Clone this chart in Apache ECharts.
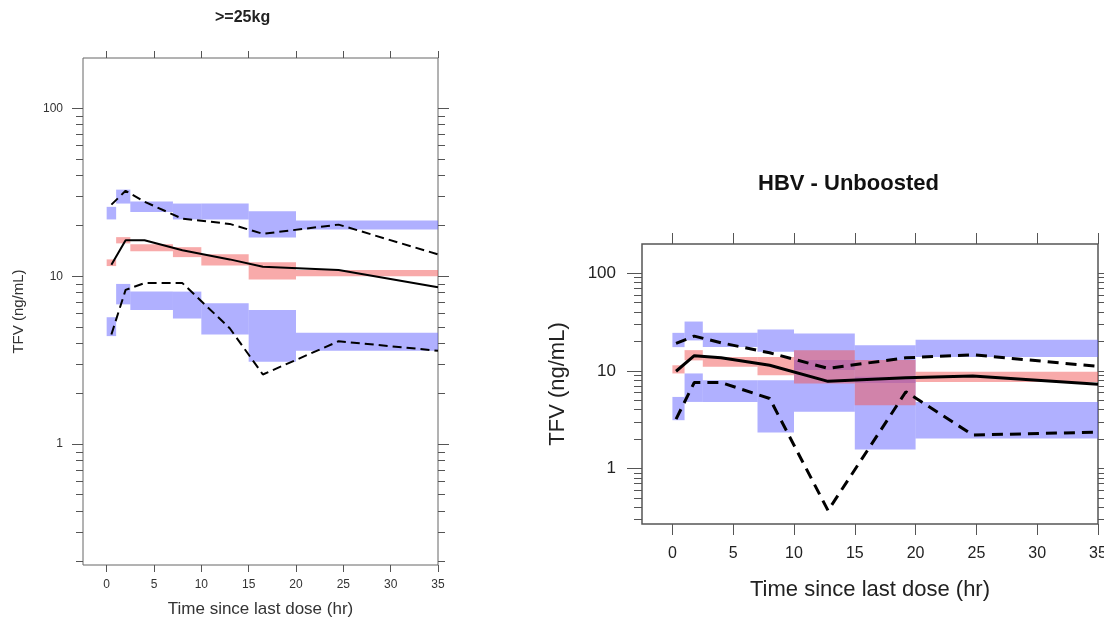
<!DOCTYPE html>
<html>
<head>
<meta charset="utf-8">
<script src="https://cdn.jsdelivr.net/npm/echarts@6/dist/echarts.min.js"></script>
<style>
  html, body { margin: 0; padding: 0; background: #fff; }
  #main { width: 1104px; height: 619px; }
</style>
</head>
<body>
<div id="main"></div>
<script>
// time bins (hr)
var binStart = [0, 1, 2.5, 7, 10, 15, 20];
var binEnd = [1, 2.5, 7, 10, 15, 20, 35];
var xTicks = [0, 5, 10, 15, 20, 25, 30, 35];
var yMajor = [1, 10, 100];
var yMinor = [0.2, 0.3, 0.4, 0.5, 0.6, 0.7, 0.8, 0.9, 2, 3, 4, 5, 6, 7, 8, 9, 20, 30, 40, 50, 60, 70, 80, 90];

// >=25kg panel
var kgTime = [0.5, 2, 4, 8, 13, 16.5, 24.5, 35];
var kgMedian = [11.7, 16.4, 16.4, 14.3, 12.6, 11.4, 10.9, 8.6];
var kgP95 = [26.7, 32.3, 27.8, 22.0, 20.5, 17.9, 20.3, 13.5];
var kgP05 = [4.5, 8.3, 9.1, 9.1, 4.9, 2.6, 4.1, 3.6];
var kgHiBandLo = [21.8, 27.1, 24.1, 21.8, 21.8, 17.0, 19.0];
var kgHiBandHi = [25.9, 32.8, 27.9, 27.1, 27.1, 24.4, 21.5];
var kgMidBandLo = [11.5, 15.7, 14.1, 13.0, 11.6, 9.55, 10.0];
var kgMidBandHi = [12.6, 17.1, 15.5, 14.9, 13.5, 12.1, 10.9];
var kgLoBandLo = [4.4, 6.8, 6.3, 5.6, 4.5, 3.1, 3.6];
var kgLoBandHi = [5.7, 9.0, 8.1, 8.1, 6.9, 6.3, 4.6];

// HBV - Unboosted panel
var hbvTime = [0.3, 1.8, 4, 8, 12.8, 19.2, 24.7, 35];
var hbvMedian = [9.9, 14.3, 13.6, 11.4, 7.8, 8.5, 8.85, 7.3];
var hbvP95 = [19.1, 22.7, 19.4, 15.3, 10.6, 13.6, 14.6, 11.1];
var hbvP05 = [3.2, 7.6, 7.6, 5.2, 0.37, 6.1, 2.2, 2.35];
var hbvHiBandLo = [17.5, 20.5, 17.6, 15.7, 10.2, 7.5, 13.9];
var hbvHiBandHi = [24.5, 32.0, 24.5, 26.6, 24.2, 18.3, 20.8];
var hbvMidBandLo = [9.4, 12.8, 11.0, 9.0, 7.43, 4.45, 7.7];
var hbvMidBandHi = [11.4, 16.3, 13.9, 13.9, 16.3, 12.9, 9.8];
var hbvLoBandLo = [3.12, 4.8, 4.8, 2.33, 3.8, 1.56, 2.03];
var hbvLoBandHi = [5.4, 9.4, 8.0, 8.03, 12.9, 8.7, 4.8];

var FONT = '"Liberation Sans", Arial, sans-serif';
var BLUE = 'rgba(97,97,255,0.5)';
var RED = 'rgba(241,85,85,0.5)';
var lg = function (v) { return Math.log10(v); };

var myChart = echarts.init(document.getElementById('main'), null, {renderer: 'canvas'});

function bandSeries (gridIdx, lo, hi, color) {
  return {
    type: 'custom',
    xAxisIndex: gridIdx * 2,
    yAxisIndex: gridIdx * 4,
    clip: true,
    silent: true,
    data: binStart.map(function (s, i) { return [s, binEnd[i], lg(lo[i]), lg(hi[i])]; }),
    renderItem: function (params, api) {
      var p0 = api.coord([api.value(0), api.value(3)]);
      var p1 = api.coord([api.value(1), api.value(2)]);
      return {
        type: 'rect',
        shape: {x: p0[0], y: p0[1], width: p1[0] - p0[0], height: p1[1] - p0[1]},
        style: {fill: color}
      };
    }
  };
}

function lineSeries (gridIdx, times, vals, dashed, width, dash) {
  return {
    type: 'line',
    xAxisIndex: gridIdx * 2,
    yAxisIndex: gridIdx * 4,
    symbol: 'none',
    silent: true,
    z: 5,
    lineStyle: {color: '#000', width: width, type: dashed ? dash : 'solid'},
    data: times.map(function (t, i) { return [t, lg(vals[i])]; })
  };
}

function xAxes (gridIdx, tickLen, fontSize, margin, nameSize, nameGap, color) {
  var base = {
    gridIndex: gridIdx, type: 'value', min: -2.5, max: 35,
    axisLine: {show: false, onZero: false}, splitLine: {show: false}
  };
  return [
    Object.assign({}, base, {
      position: 'bottom',
      name: 'Time since last dose (hr)', nameLocation: 'middle', nameGap: nameGap,
      nameTextStyle: {fontFamily: FONT, fontSize: nameSize, color: color},
      axisTick: {length: tickLen, lineStyle: {color: '#555'}, customValues: xTicks},
      axisLabel: {customValues: xTicks, margin: margin, fontFamily: FONT, fontSize: fontSize, color: color}
    }),
    Object.assign({}, base, {
      position: 'top',
      axisTick: {length: tickLen, lineStyle: {color: '#555'}, customValues: xTicks},
      axisLabel: {show: false}
    })
  ];
}

function yAxes (gridIdx, min, max, majorLen, minorLen, fontSize, margin, nameSize, nameGap, color) {
  var major = yMajor.map(lg);
  var minor = yMinor.map(lg);
  var base = {
    gridIndex: gridIdx, type: 'value', min: min, max: max,
    axisLine: {show: false, onZero: false}, splitLine: {show: false}
  };
  return [
    Object.assign({}, base, {
      position: 'left',
      name: 'TFV (ng/mL)', nameLocation: 'middle', nameGap: nameGap,
      nameTextStyle: {fontFamily: FONT, fontSize: nameSize, color: color},
      axisTick: {length: majorLen, lineStyle: {color: '#555'}, customValues: major},
      axisLabel: {
        customValues: major, margin: margin, fontFamily: FONT, fontSize: fontSize, color: color,
        formatter: function (v) { return String(Math.round(Math.pow(10, v))); }
      }
    }),
    Object.assign({}, base, {
      position: 'left',
      axisTick: {length: minorLen, lineStyle: {color: '#555'}, customValues: minor},
      axisLabel: {show: false}
    }),
    Object.assign({}, base, {
      position: 'right',
      axisTick: {length: majorLen, lineStyle: {color: '#555'}, customValues: major},
      axisLabel: {show: false}
    }),
    Object.assign({}, base, {
      position: 'right',
      axisTick: {length: minorLen, lineStyle: {color: '#555'}, customValues: minor},
      axisLabel: {show: false}
    })
  ];
}

var option = {
  animation: false,
  backgroundColor: '#fff',
  title: [{
    text: '>=25kg', left: 210, top: 5,
    textStyle: {fontFamily: FONT, fontSize: 16, fontWeight: 'bold', color: '#222'}
  }, {
    text: 'HBV - Unboosted', left: 753, top: 168,
    textStyle: {fontFamily: FONT, fontSize: 22, fontWeight: 'bold', color: '#111'}
  }],
  grid: [
    {left: 83, top: 58, width: 355, height: 507, show: true, borderColor: '#666', borderWidth: 1,
      backgroundColor: 'transparent', outerBoundsMode: 'none'},
    {left: 642, top: 244, width: 456, height: 280, show: true, borderColor: '#555', borderWidth: 1.5,
      backgroundColor: 'transparent', outerBoundsMode: 'none'}
  ],
  xAxis: xAxes(0, 7, 12, 14, 17, 36, '#333').concat(xAxes(1, 11, 16, 22, 22, 55, '#222')),
  yAxis: yAxes(0, -0.72, 2.30, 11, 7, 12, 20, 15, 57, '#333').concat(yAxes(1, -0.57, 2.30, 15, 8, 17, 26, 22, 73, '#222')),
  series: [
    bandSeries(0, kgHiBandLo, kgHiBandHi, BLUE),
    bandSeries(0, kgLoBandLo, kgLoBandHi, BLUE),
    bandSeries(0, kgMidBandLo, kgMidBandHi, RED),
    lineSeries(0, kgTime, kgMedian, false, 2),
    lineSeries(0, kgTime, kgP95, true, 2, [9, 5]),
    lineSeries(0, kgTime, kgP05, true, 2, [9, 5]),
    bandSeries(1, hbvHiBandLo, hbvHiBandHi, BLUE),
    bandSeries(1, hbvLoBandLo, hbvLoBandHi, BLUE),
    bandSeries(1, hbvMidBandLo, hbvMidBandHi, RED),
    lineSeries(1, hbvTime, hbvMedian, false, 3),
    lineSeries(1, hbvTime, hbvP95, true, 3, [11, 7]),
    lineSeries(1, hbvTime, hbvP05, true, 3, [11, 7])
  ]
};

myChart.setOption(option);
</script>
</body>
</html>
